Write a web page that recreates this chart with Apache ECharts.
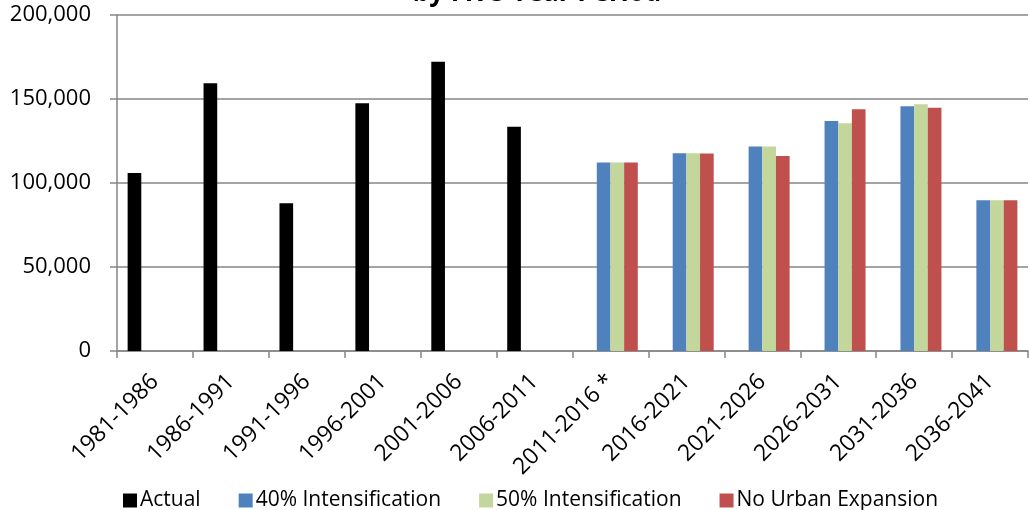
<!DOCTYPE html>
<html>
<head>
<meta charset="utf-8">
<script src="https://cdn.jsdelivr.net/npm/echarts@6/dist/echarts.min.js"></script>
<style>
html,body{margin:0;padding:0;background:#fff;}
#chart{width:1030px;height:510px;}
</style>
</head>
<body>
<div id="chart"></div>
<script>
const categories = ['1981-1986','1986-1991','1991-1996','1996-2001','2001-2006','2006-2011','2011-2016 *','2016-2021','2021-2026','2026-2031','2031-2036','2036-2041'];
const actual = [106000, 159400, 88000, 147500, 172200, 133500, null, null, null, null, null, null];
const intens40 = [null, null, null, null, null, null, 112200, 117700, 121800, 136900, 145700, 89700];
const intens50 = [null, null, null, null, null, null, 112200, 117700, 121800, 135500, 146900, 89700];
const noExpansion = [null, null, null, null, null, null, 112200, 117600, 116000, 143900, 144800, 89700];
const yTicks = [0, 50000, 100000, 150000, 200000];
const seriesNames = ['Actual', '40% Intensification', '50% Intensification', 'No Urban Expansion'];
const colors = ['#000000', '#4F81BD', '#C3D69B', '#C0504D'];

const FONT = 'Open Sans';
const chart = echarts.init(document.getElementById('chart'));
const seriesData = [actual, intens40, intens50, noExpansion];
chart.setOption({
  animation: false,
  textStyle: { fontFamily: FONT },
  graphic: [{
    type: 'text',
    x: 537, y: 7,
    style: { text: 'by Five-Year Period', font: 'bold 26px "Open Sans"', fill: '#000', align: 'center', verticalAlign: 'bottom' }
  }],
  grid: { left: 117, right: 2, top: 15, bottom: 159 },
  legend: {
    left: 118, top: 485,
    itemWidth: 14, itemHeight: 14, itemGap: 38,
    icon: 'rect',
    textStyle: { fontFamily: FONT, fontSize: 21, color: '#000', padding: [0,0,0,-2] },
    data: seriesNames
  },
  xAxis: {
    type: 'category',
    data: categories,
    axisLine: { lineStyle: { color: '#868686', width: 1.5 } },
    axisTick: { show: true, length: 7, lineStyle: { color: '#868686', width: 1.5 } },
    axisLabel: { rotate: 45, fontSize: 23, color: '#000', margin: 27, interval: 0, fontFamily: FONT }
  },
  yAxis: {
    type: 'value',
    min: 0, max: 200000, interval: 50000,
    axisLine: { show: true, lineStyle: { color: '#868686', width: 1.5 } },
    axisTick: { show: true, length: 7, lineStyle: { color: '#868686', width: 1.5 } },
    splitLine: { lineStyle: { color: '#868686', width: 1.5 } },
    axisLabel: {
      fontSize: 22, color: '#000', margin: 26, fontFamily: FONT,
      formatter: v => yTicks.includes(v) ? v.toLocaleString('en-US') : ''
    }
  },
  series: seriesNames.map((n, i) => ({
    name: n,
    type: 'bar',
    data: seriesData[i],
    barGap: '0%',
    barCategoryGap: '28%',
    itemStyle: { color: colors[i] }
  }))
});
</script>
</body>
</html>
